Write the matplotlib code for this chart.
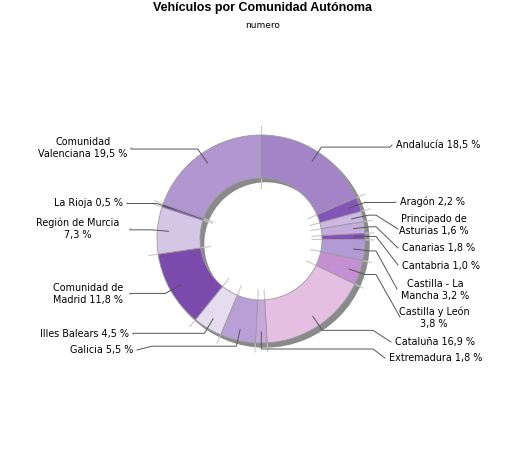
import numpy as np
import matplotlib
matplotlib.use('Agg')
import matplotlib.pyplot as plt
from matplotlib.patches import Circle

regions = ['Andalucía', 'Aragón', 'Principado de\nAsturias', 'Canarias', 'Cantabria',
           'Castilla - La\nMancha', 'Castilla y León\n', 'Cataluña', 'Extremadura',
           'Galicia', 'Illes Balears', 'Comunidad de\nMadrid', 'Región de Murcia\n',
           'La Rioja', 'Comunidad\nValenciana']
pct = [18.5, 2.2, 1.6, 1.8, 1.0, 3.2, 3.8, 16.9, 1.8, 5.5, 4.5, 11.8, 7.3, 0.5, 19.5]
colors = ['#a385c7', '#8455b8', '#cdb8e2', '#c4acdc', '#8550b8', '#b29bd4', '#c490d2',
          '#e4bfe2', '#c8a8dc', '#b89fd6', '#e6dcf0', '#7b4aad', '#d6c6e6', '#7e4fb0',
          '#b196d0']

# label layout in pixels (y down): text x, text y, knee x, attach point, alignment
lab_x = [396, 400, 434, 402, 402, 435, 434, 395, 389, 133, 129, 88, 78, 123, 83]
lab_y = [145, 202, 225, 248, 266, 290, 318, 342, 358, 350, 334, 294, 229, 203, 148]
knee_x = [390, 394, 376, 376, 376, 376, 376, 373, 373, 152, 133, 130, 130, 127, 131]
att = [(392, 145), (396, 202), (398, 229), (398, 248), (398, 265), (397, 289), (400, 317),
       (391, 342), (385, 358), (137, 350), (133, 334), (130, 294), (130, 229), (127, 203),
       (131, 148)]
align = ['left', 'left', 'center', 'left', 'left', 'center', 'center', 'left', 'left',
         'right', 'right', 'center', 'center', 'right', 'center']

cx, cy = 261, 239
r_out, r_in = 104, 61

fig = plt.figure(figsize=(5.25, 4.5), dpi=100)
ax = fig.add_axes([0, 0, 1, 1])

# depth shadow
ax.add_patch(Circle((cx + 4, cy + 4), r_out, color='#8a8a8a', zorder=1))
ax.add_patch(Circle((cx + 5, cy + 5), r_in, color='white', zorder=2))

# y axis is inverted, so counterclock=True runs clockwise on screen
wedges, _ = ax.pie(pct, colors=colors, radius=r_out, center=(cx, cy),
                   startangle=-90, counterclock=True,
                   wedgeprops=dict(width=r_out - r_in, edgecolor='#9b9b9b', linewidth=0.6))
for w in wedges:
    w.set_zorder(4)

# faint boundary extensions
for w in wedges:
    t = np.deg2rad(w.theta1)
    ax.plot([cx + (r_in - 10) * np.cos(t), cx + (r_out + 9) * np.cos(t)],
            [cy + (r_in - 10) * np.sin(t), cy + (r_out + 9) * np.sin(t)],
            color='#c8c8c8', lw=0.8, zorder=3)

for i, w in enumerate(wedges):
    t = np.deg2rad((w.theta1 + w.theta2) / 2)
    a = (cx + 93 * np.cos(t), cy + 93 * np.sin(t))
    e = (cx + 110 * np.cos(t), cy + 110 * np.sin(t))
    xs = [a[0], e[0], knee_x[i], att[i][0]]
    ys = [a[1], e[1], e[1], att[i][1]]
    ax.plot(xs, ys, color='#555555', lw=0.7, zorder=5)
    val = str(pct[i]).replace('.', ',') + ' %'
    name = regions[i]
    label = name + val if name.endswith('\n') else name + ' ' + val
    ax.text(lab_x[i], lab_y[i], label, ha=align[i], va='center', multialignment='center',
            fontsize=6.9, color='black', linespacing=1.3, zorder=6)

fig.text(0.5, 1 - 8 / 450, 'Vehículos por Comunidad Autónoma', ha='center', va='center',
         fontsize=9, fontweight='bold', family=['Liberation Sans Narrow', 'Liberation Sans'])
fig.text(0.5, 1 - 26 / 450, 'numero', ha='center', va='center', fontsize=6.5)

ax.set_xlim(0, 525)
ax.set_ylim(450, 0)
ax.set_aspect('auto')
ax.axis('off')

fig.savefig('out.png', dpi=100)
